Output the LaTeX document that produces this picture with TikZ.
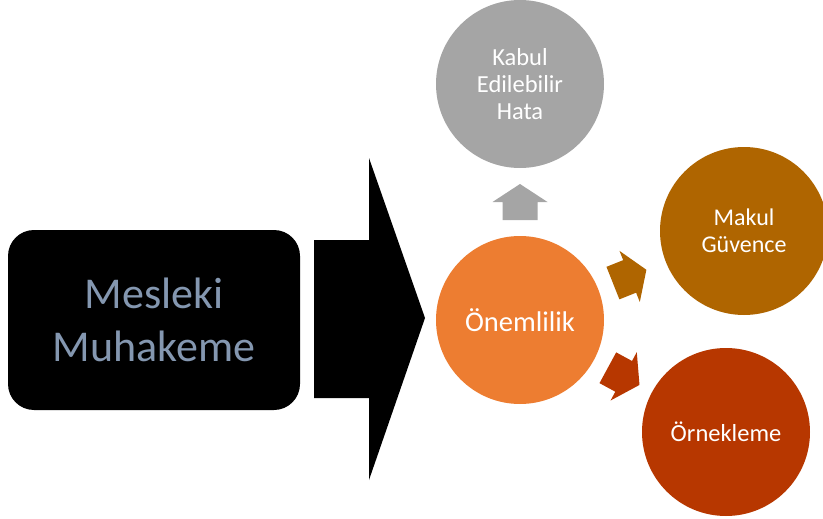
\documentclass[tikz,border=0pt]{standalone}
\usepackage{fontspec}
\setmainfont{Carlito}
\usetikzlibrary{calc}
\definecolor{mtext}{HTML}{8497B0}
\definecolor{cgray}{HTML}{A5A5A5}
\definecolor{corange}{HTML}{ED7D31}
\definecolor{cbrown}{HTML}{AF6500}
\definecolor{crust}{HTML}{B73700}
\tikzset{
  bubble/.style={circle, minimum size=168pt, inner sep=0pt, text=white, align=center},
  pics/smallarrow/.style={code={
    \fill[#1] (0,-17.5) -- (18,-17.5) -- (18,-27.5) -- (36,0) -- (18,27.5) -- (18,17.5) -- (0,17.5) -- cycle;
  }},
}
\begin{document}
\begin{tikzpicture}[x=1pt,y=-1pt]
\useasboundingbox (0,0) rectangle (823,519);
% left box
\node[fill=black, rounded corners=26pt, minimum width=292pt, minimum height=180pt,
  text=mtext, align=center, font=\fontsize{44}{53}\selectfont] (mesleki) at (154,320)
  {Mesleki\\Muhakeme};
% big arrow
\fill[black] (314,240) -- (369,240) -- (369,158) -- (425,318) -- (369,480) -- (369,398) -- (314,398) -- cycle;
% circles
\node[bubble, fill=cgray, font=\fontsize{24.5}{27}\selectfont] (kabul) at (520,84) {Kabul\\Edilebilir\\Hata};
\node[bubble, fill=corange, font=\fontsize{28.5}{32}\selectfont] (onem) at (520,320) {Önemlilik};
\node[bubble, fill=cbrown, font=\fontsize{24}{27}\selectfont] (makul) at (744,231) {Makul\\Güvence};
\node[bubble, fill=crust, font=\fontsize{24.5}{29}\selectfont] (ornek) at (726,432) {Örnekleme};
% small arrows
\pic[rotate=90] (a1) at ($(onem)!100pt!(kabul)$) {smallarrow=cgray};
\pic[rotate=21.7] (a2) at ($(onem)!100pt!(makul)$) {smallarrow=cbrown};
\pic[rotate=-28.5] (a3) at ($(onem)!100pt!(ornek)$) {smallarrow=crust};
\end{tikzpicture}
\end{document}
